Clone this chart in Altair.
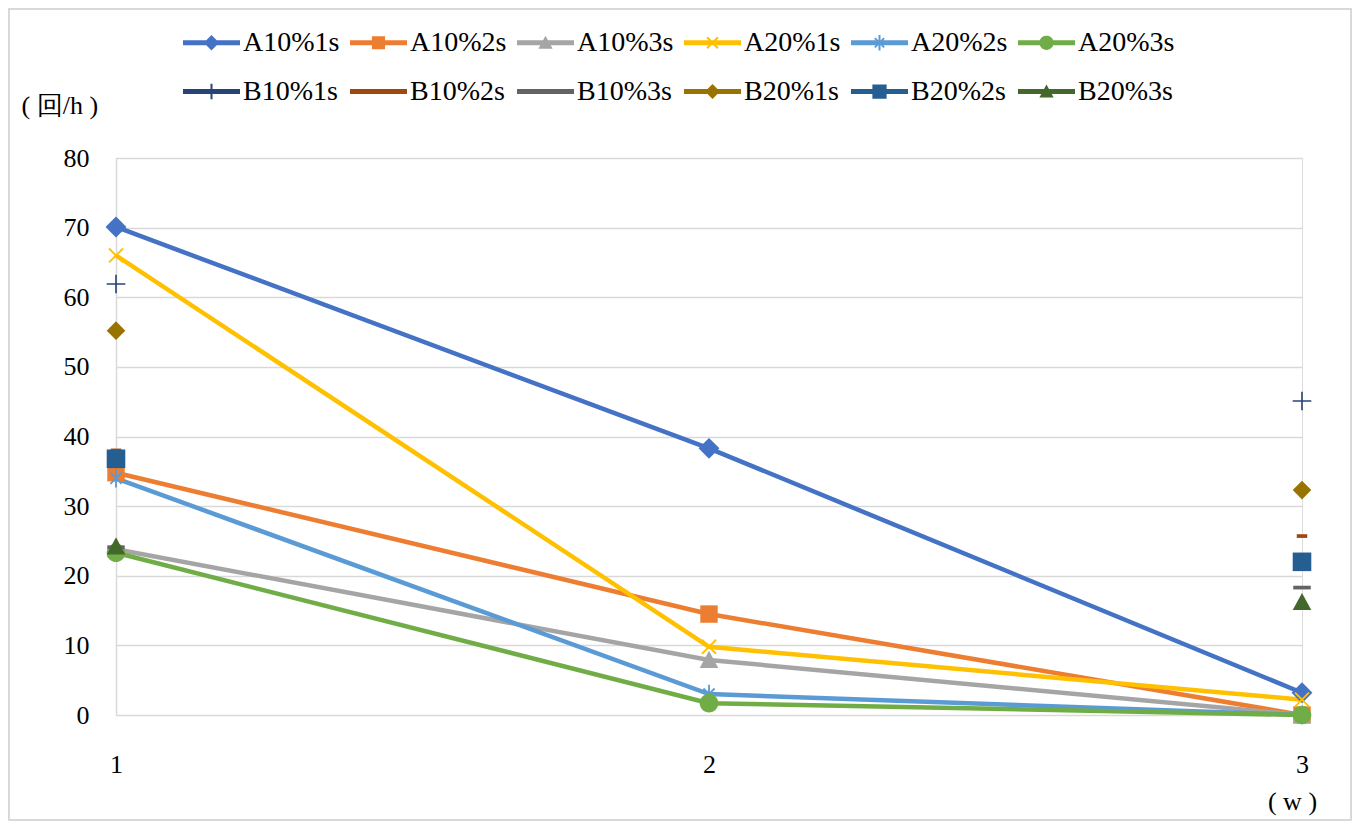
import math
import altair as alt
import pandas as pd

# ---------------- data ----------------
series = ["A10%1s", "A10%2s", "A10%3s", "A20%1s", "A20%2s", "A20%3s",
          "B10%1s", "B10%2s", "B10%3s", "B20%1s", "B20%2s", "B20%3s"]
weeks = [1, 2, 3]
values = {
    "A10%1s": [70.1, 38.3, 3.2],
    "A10%2s": [34.8, 14.5, 0.0],
    "A10%3s": [23.8, 7.9, 0.0],
    "A20%1s": [66.0, 9.8, 2.2],
    "A20%2s": [34.0, 3.0, 0.0],
    "A20%3s": [23.3, 1.7, 0.0],
    "B10%1s": [61.9, None, 45.1],
    "B10%2s": [38.0, None, 25.7],
    "B10%3s": [24.1, None, 18.3],
    "B20%1s": [55.2, None, 32.3],
    "B20%2s": [36.8, None, 22.0],
    "B20%3s": [24.2, None, 16.2],
}
colors = ["#4472C4", "#ED7D31", "#A5A5A5", "#FFC000", "#5B9BD5", "#70AD47",
          "#264478", "#9E480E", "#636363", "#997300", "#255E91", "#43682B"]
line_series = series[:6]

rows = []
for s in series:
    for w, v in zip(weeks, values[s]):
        if v is not None:
            rows.append({"series": s, "week": w, "value": v})
df = pd.DataFrame(rows)

# ---------------- marker shapes (unit square paths) ----------------
def poly(pts):
    area = 0
    for i in range(len(pts)):
        x1, y1 = pts[i]
        x2, y2 = pts[(i + 1) % len(pts)]
        area += x1 * y2 - x2 * y1
    if area < 0:
        pts = pts[::-1]
    return "M" + "L".join(f"{x:.3f},{y:.3f}" for x, y in pts) + "Z"

def bar(angle, L, w):
    ux, uy = math.cos(angle), math.sin(angle)
    nx, ny = -uy, ux
    return poly([(ux * L + nx * w, uy * L + ny * w), (ux * L - nx * w, uy * L - ny * w),
                 (-ux * L - nx * w, -uy * L - ny * w), (-ux * L + nx * w, -uy * L + ny * w)])

def rect(hw, hh):
    return poly([(-hw, -hh), (hw, -hh), (hw, hh), (-hw, hh)])

def diamond(r):
    return poly([(0, -r), (r, 0), (0, r), (-r, 0)])

def triangle(r):
    return poly([(0, -r), (r, r * 0.85), (-r, r * 0.85)])

def circle(r, n=32):
    return poly([(r * math.cos(2 * math.pi * i / n), r * math.sin(2 * math.pi * i / n)) for i in range(n)])

def xmark(L, w):
    return bar(math.pi / 4, L, w) + bar(-math.pi / 4, L, w)

def star(L, w):
    return xmark(L * 0.85, w) + bar(math.pi / 2, L, w)

def plus(L, w):
    return bar(0, L, w) + bar(math.pi / 2, L, w)

markers = [diamond(0.9), rect(0.75, 0.75), triangle(0.8), xmark(0.85, 0.08), star(0.8, 0.08), circle(0.8),
           plus(0.8, 0.07), rect(0.45, 0.16), rect(0.75, 0.16), diamond(0.8), rect(0.8, 0.8), triangle(0.8)]

legend_markers = [diamond(0.27), rect(0.23, 0.23), triangle(0.25), xmark(0.27, 0.035), star(0.27, 0.035), circle(0.25),
                  plus(0.27, 0.035), rect(0.12, 0.05), rect(0.17, 0.06), diamond(0.26), rect(0.25, 0.25), triangle(0.25)]
legend_line = rect(1.0, 0.085)
legend_shapes = [legend_line + m for m in legend_markers]

FONT = "Liberation Serif"
GRID = "#D9D9D9"

xenc = alt.X("week:O", scale=alt.Scale(type="point", padding=0, domain=weeks),
             axis=alt.Axis(title="( w )", grid=False, ticks=False, labelAngle=0,
                           domain=False, labelPadding=36, labelFontSize=26, labelFont=FONT,
                           labelColor="#000", labelOverlap=False,
                           titleFont=FONT, titleFontSize=26, titleFontWeight="normal",
                           titleColor="#000", titleX=1176, titleY=86, titleBaseline="middle"))
yenc = alt.Y("value:Q", scale=alt.Scale(domain=[0, 80], nice=False),
             axis=alt.Axis(values=list(range(0, 81, 10)), title="( 回/h )", titleAngle=0,
                           titleAlign="left", titleX=-95, titleY=-53, titleBaseline="middle",
                           titleFont=FONT, titleFontSize=26, titleFontWeight="normal", titleColor="#000",
                           labelFont=FONT, labelFontSize=26, labelColor="#000", labelPadding=27,
                           labelOverlap=False,
                           ticks=False, domain=True, domainColor=GRID, domainWidth=1.5,
                           gridColor=GRID, gridWidth=1.5))

color_scale = alt.Scale(domain=series, range=colors)

lines = alt.Chart(df).transform_filter(
    alt.FieldOneOfPredicate(field="series", oneOf=line_series)
).mark_line(strokeWidth=4.5).encode(
    x=xenc, y=yenc,
    color=alt.Color("series:N", scale=color_scale, legend=None),
    detail="series:N",
)

points = alt.Chart(df).mark_point(filled=True, opacity=1, size=540).encode(
    x=xenc, y=yenc,
    color=alt.Color("series:N", scale=color_scale, legend=None),
    shape=alt.Shape("series:N", scale=alt.Scale(domain=series, range=markers), legend=None),
)

leg = dict(orient="none", legendX=67, legendY=-144, columns=6, direction="horizontal",
           symbolSize=3249, symbolStrokeWidth=0, labelFont=FONT, labelFontSize=28,
           labelColor="#000", labelOffset=3, columnPadding=10, rowPadding=6, labelLimit=300)

legend_layer = alt.Chart(df).transform_filter("false").mark_point(
    filled=True, opacity=1, size=3249
).encode(
    x=xenc, y=yenc,
    color=alt.Color("series:N", scale=color_scale, title=None, legend=alt.Legend(**leg)),
    shape=alt.Shape("series:N", scale=alt.Scale(domain=series, range=legend_shapes), title=None,
                    legend=alt.Legend(**leg)),
)

frame = alt.Chart(pd.DataFrame({"k": [0]})).mark_rect(
    fill="white", fillOpacity=0, stroke=GRID, strokeWidth=2, clip=False
).encode(
    x=alt.value(-107), x2=alt.value(1235), y=alt.value(-149), y2=alt.value(662)
)

chart = alt.layer(frame, lines, points, legend_layer).resolve_scale(
    color="independent", shape="independent"
).properties(
    width=1186, height=557,
    padding={"left": 108, "top": 150, "right": 50, "bottom": 106},
    autosize="none",
).configure_view(stroke=None).configure(background="white")

chart.save("out.html", embed_options={"renderer": "svg", "actions": False})
